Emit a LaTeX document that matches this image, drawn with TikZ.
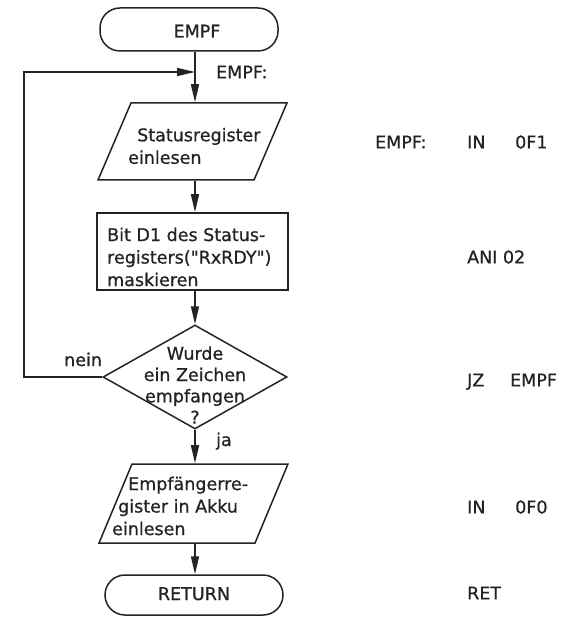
\documentclass[tikz,border=0pt]{standalone}
\usepackage{fontspec}
\setmainfont[FakeBold=0.8]{DejaVu Sans}
\usetikzlibrary{arrows.meta,shapes.geometric}
\definecolor{ink}{RGB}{35,35,35}
\tikzset{
  every node/.style={font=\fontsize{17.5}{22.5}\selectfont, text=ink},
  term/.style={draw=ink, line width=1.5pt, rectangle, rounded corners=20pt, inner sep=0pt},
  para/.style={draw=ink, line width=1.5pt, trapezium, trapezium left angle=75, trapezium right angle=105, trapezium stretches=true, inner sep=2pt},
  procbox/.style={draw=ink, line width=1.5pt, rectangle, inner sep=0pt},
  decide/.style={draw=ink, line width=1.5pt, diamond, aspect=1.77, inner sep=1pt},
  txt/.style={inner sep=0pt, align=left},
  code/.style={inner sep=0pt, anchor=base west},
  conn/.style={draw=ink, line width=1.5pt, -{Triangle[length=18pt,width=8pt]}},
}
\begin{document}
\begin{tikzpicture}[x=1pt,y=-1pt]
\useasboundingbox (0,0) rectangle (562,617);
\coordinate (axis) at (195,0);
% shapes
\node[term, minimum width=178pt, minimum height=43pt] (start) at (189,29.5) {};
\node[code, anchor=base] (starttxt) at (197,37.5) {EMPF};
\node[para, minimum width=189pt, minimum height=77pt] (p1) at (192.5,141.5) {};
\node[txt, anchor=west] (p1txt) at (128,146) {\hspace*{9pt}Statusregister\\einlesen};
\node[procbox, minimum width=191pt, minimum height=77pt] (box) at (192.5,251.5) {};
\node[txt, anchor=west] (boxtxt) at (107,257) {Bit D1 des Status-\\registers(\textquotedbl RxRDY\textquotedbl)\\maskieren};
\node[decide, minimum width=184pt, minimum height=104pt] (dia) at (195,377) {};
\node[txt, align=center, font=\fontsize{17.5}{21.3}\selectfont] (diatxt) at (195,385) {Wurde\\ein Zeichen\\empfangen\\?};
\node[para, minimum width=189pt, minimum height=79pt] (p2) at (193.5,503.5) {};
\node[txt, anchor=west] (p2txt) at (112,506) {\hspace*{16pt}Empfängerre-\\\hspace*{6pt}gister in Akku\\einlesen};
\node[term, minimum width=178pt, minimum height=40pt] (ret) at (194,595) {};
\node[code, anchor=base] (rettxt) at (194,600) {RETURN};
% connectors
\coordinate (join) at (195,72);
\coordinate (corner) at (24,377);
\draw[conn] (start.south -| axis) -- (p1.north -| axis);
\draw[conn] (p1.south -| axis) -- (box.north -| axis);
\draw[conn] (box.south -| axis) -- (dia.north);
\draw[conn] (dia.south) -- (p2.north -| axis);
\draw[conn] (p2.south -| axis) -- (ret.north -| axis);
\draw[conn] (dia.west) -- (corner) |- (join);
% labels
\node[code] (lblempf) at (216,78.4) {EMPF:};
\node[code] (lblnein) at (64,366) {nein};
\node[code] (lblja) at (216,446) {ja};
% code column
\node[code] (c1a) at (375,148.4) {EMPF:};
\node[code] (c1b) at (467,148.4) {IN};
\node[code] (c1c) at (515,148.4) {0F1};
\node[code] (c2a) at (467,263.4) {ANI 02};
\node[code] (c3a) at (467,386.4) {JZ};
\node[code] (c3b) at (510,386.4) {EMPF};
\node[code] (c4a) at (467,513.4) {IN};
\node[code] (c4b) at (515,513.4) {0F0};
\node[code] (c5a) at (467,599.4) {RET};
\end{tikzpicture}
\end{document}
